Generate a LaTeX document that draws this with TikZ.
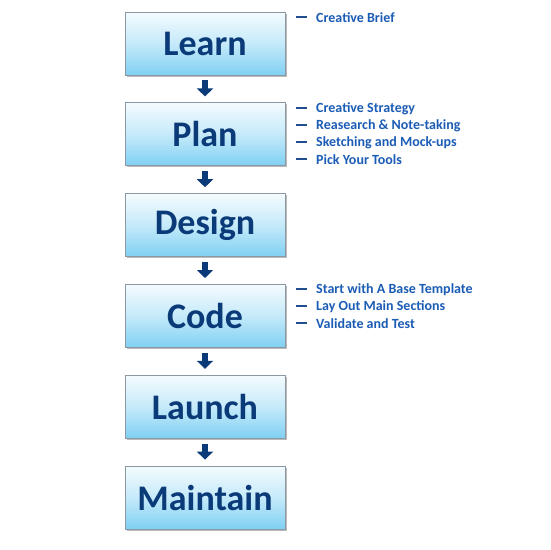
\documentclass[tikz,border=0pt]{standalone}
\usepackage{fontspec}
\setmainfont{Carlito}
\usetikzlibrary{shadows,arrows.meta}
\definecolor{navy}{HTML}{0A3A78}
\definecolor{itemblue}{HTML}{1B5CB5}
\definecolor{dashblue}{HTML}{1F4F8F}
\definecolor{boxtop}{HTML}{F4FBFE}
\definecolor{boxbot}{HTML}{7FD0F3}
\definecolor{boxline}{HTML}{8C98A4}
\tikzset{
  stagebox/.style={draw=boxline, line width=0.8pt, minimum width=160pt, minimum height=63pt,
    top color=boxtop, bottom color=boxbot, middle color=boxtop!60!boxbot, shading angle=0,
    drop shadow={shadow xshift=1.5pt, shadow yshift=-1.5pt, fill=black!45, opacity=0.6},
    font=\bfseries\fontsize{36}{36}\selectfont, text=navy, inner sep=0pt},
  flowarrow/.style={draw=navy, line width=6pt, -{Triangle[width=16pt,length=8pt]}, shorten <=5pt, shorten >=6pt},
  itemtext/.style={anchor=west, font=\bfseries\fontsize{14}{14}\selectfont, text=itemblue, inner sep=0pt},
  itemdash/.style={draw=dashblue, line width=2pt}
}
\begin{document}
\begin{tikzpicture}[x=1pt,y=-1pt]
\useasboundingbox (0,0) rectangle (550,550);
\fill[white] (0,0) rectangle (550,550);
\node[stagebox] (learn) at (205,43.5) {Learn};
\node[stagebox] (plan) at (205,134.3) {Plan};
\node[stagebox] (design) at (205,225.1) {Design};
\node[stagebox] (code) at (205,315.9) {Code};
\node[stagebox] (launch) at (205,406.7) {Launch};
\node[stagebox] (maintain) at (205,497.5) {Maintain};
\draw[flowarrow] (learn.south) -- (plan.north);
\draw[flowarrow] (plan.south) -- (design.north);
\draw[flowarrow] (design.south) -- (code.north);
\draw[flowarrow] (code.south) -- (launch.north);
\draw[flowarrow] (launch.south) -- (maintain.north);
\foreach \t/\y [count=\i] in {Creative Brief/17, Creative Strategy/108, Reasearch \& Note-taking/125, Sketching and Mock-ups/142, Pick Your Tools/159, Start with A Base Template/289, Lay Out Main Sections/306, Validate and Test/323}{
  \draw[itemdash] (296,\y) -- (307,\y);
  \node[itemtext] (item\i) at (316,\y+1) {\t};
}
\end{tikzpicture}
\end{document}
